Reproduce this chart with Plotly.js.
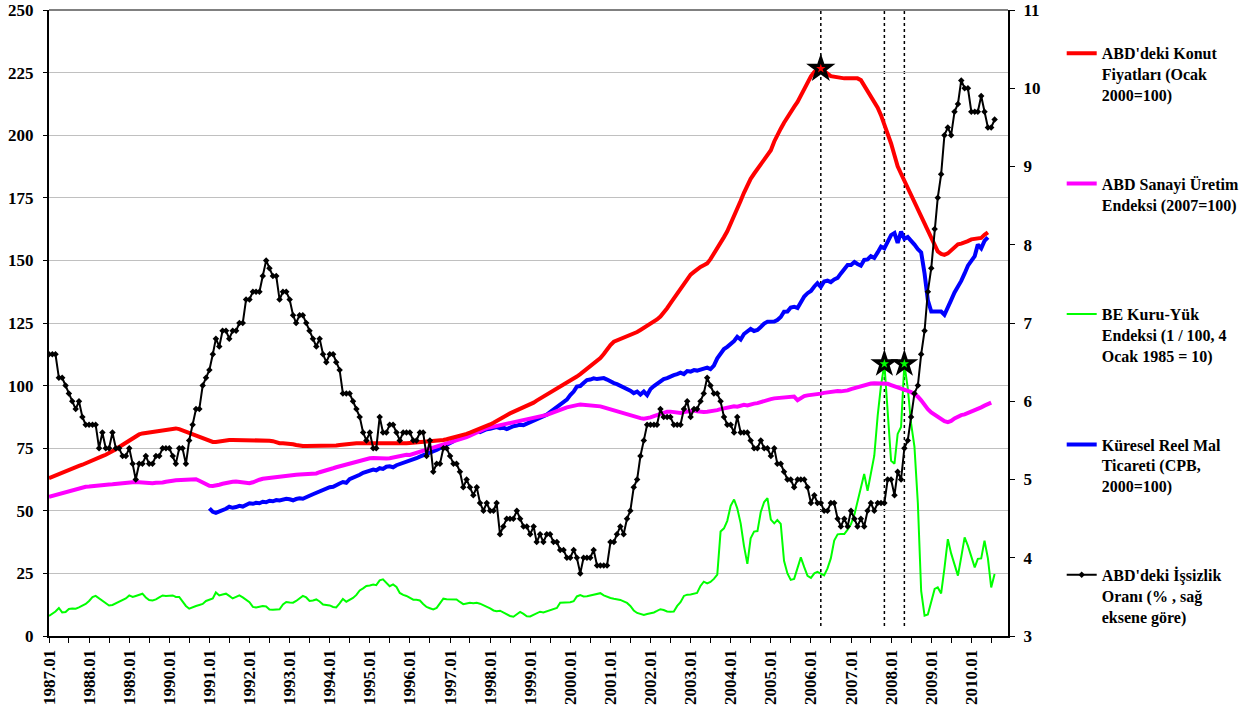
<!DOCTYPE html>
<html><head><meta charset="utf-8">
<script src="https://cdn.plot.ly/plotly-3.0.1.min.js"></script>
<style>html,body{margin:0;padding:0;background:#fff}#chart{width:1255px;height:711px}</style>
</head><body><div id="chart"></div>
<script>
// ---- categories ----
const firstMonth = '1987-01';        // first category of the monthly axis
const tradeFirstMonth = '1991-01';   // world trade series starts here
const axisEndMonth = '2010-12';

// ---- series values (monthly) ----
const housePrices = [ // ABD'deki Konut Fiyatları (Ocak 2000=100), from 1987.01
63.0,63.6,64.1,64.6,65.1,65.6,66.2,66.8,67.4,67.9,68.4,68.9,
69.4,70.0,70.6,71.2,71.8,72.4,73.0,73.8,74.6,75.5,76.4,77.3,
78.2,79.0,79.8,80.5,80.9,81.1,81.2,81.4,81.7,82.0,82.2,82.4,
82.5,82.8,82.9,82.6,82.1,81.6,81.0,80.5,80.0,79.5,79.0,78.5,
77.8,77.5,77.5,77.8,78.0,78.2,78.3,78.3,78.3,78.3,78.2,78.3,
78.3,78.3,78.3,78.3,78.3,78.2,78.0,77.8,77.3,77.0,77.0,77.0,
76.9,76.6,76.3,76.0,75.9,75.9,75.9,75.9,75.9,75.9,75.9,75.9,
75.9,75.9,76.1,76.3,76.5,76.6,76.8,77.0,77.0,77.0,77.0,77.0,
77.0,77.0,77.0,77.0,77.0,76.8,76.7,76.6,76.6,76.7,76.8,77.0,
77.1,77.2,77.3,77.3,77.4,77.5,77.6,77.7,77.8,78.0,78.3,78.6,
78.9,79.2,79.5,79.9,80.3,80.7,81.2,81.7,82.2,82.8,83.4,84.0,
84.5,85.2,86.0,86.8,87.5,88.2,88.9,89.5,90.0,90.6,91.2,91.8,
92.5,93.2,94.0,94.8,95.5,96.2,96.9,97.7,98.5,99.3,100.1,100.9,
101.7,102.6,103.6,104.6,105.6,106.6,107.5,108.5,109.7,111.0,112.6,114.5,
116.2,117.5,118.0,118.5,119.0,119.6,120.1,120.6,121.4,122.2,123.0,123.8,
124.6,125.5,126.4,127.6,129.1,130.9,132.8,134.8,136.8,138.8,140.8,142.9,
144.3,145.4,146.5,147.4,148.1,148.8,150.5,152.6,154.8,157.0,159.3,161.6,
164.5,167.6,170.7,173.8,177.0,180.2,182.6,184.6,186.6,188.4,190.2,191.9,
194.0,197.5,200.3,202.6,205.0,207.3,209.4,211.3,213.3,215.8,218.5,221.0,
223.5,225.3,226.2,226.6,225.8,224.6,223.6,223.3,222.9,222.7,222.7,222.7,
222.7,222.7,222.7,222.0,219.9,217.6,215.6,213.8,211.0,208.0,204.5,200.6,
196.7,192.0,187.6,184.6,181.8,179.1,176.1,173.5,170.7,167.5,164.6,161.8,
158.7,155.8,153.6,152.6,152.2,152.8,154.0,155.6,156.4,156.7,157.0,157.7,
158.4,158.6,158.7,159.0,160.2,161.2];

const industrialProd = [ // ABD Sanayi Üretim Endeksi (2007=100), from 1987.01
55.6,56.0,56.4,56.8,57.0,57.3,57.8,58.2,58.6,59.0,59.3,59.6,
59.7,59.9,60.0,60.2,60.3,60.4,60.5,60.6,60.8,61.0,61.1,61.2,
61.3,61.4,61.5,61.4,61.2,61.0,60.9,61.0,61.2,61.2,61.3,61.6,
62.0,62.0,62.2,62.3,62.4,62.5,62.6,62.7,62.6,62.0,61.2,60.5,
60.0,59.9,60.0,60.4,60.8,61.2,61.5,61.6,61.7,61.5,61.2,61.0,
61.0,61.4,62.0,62.4,62.8,63.0,63.1,63.2,63.3,63.6,63.8,64.1,
64.3,64.4,64.4,64.5,64.5,64.5,64.6,64.7,64.9,65.4,65.9,66.4,
66.8,67.0,67.4,67.8,68.1,68.4,68.8,69.0,69.4,69.9,70.4,70.8,
71.0,71.1,71.0,70.9,70.8,70.9,71.0,71.3,71.6,71.9,72.2,72.4,
72.3,72.8,73.1,73.6,74.0,74.4,74.8,75.2,75.6,76.0,76.4,76.8,
77.2,77.5,77.9,78.3,78.8,79.4,80.0,80.7,81.3,81.9,82.5,83.0,
83.3,83.6,83.9,84.2,84.5,84.7,84.9,85.2,85.6,86.0,86.3,86.5,
86.7,86.9,87.2,87.6,87.9,88.3,88.8,89.2,89.6,90.2,90.8,91.3,
91.7,92.0,92.2,92.4,92.3,92.3,92.3,92.1,92.0,91.7,91.3,90.9,
90.4,90.0,89.6,89.3,88.9,88.5,88.1,87.7,87.4,87.0,86.8,86.9,
87.3,87.8,88.3,88.8,89.2,89.6,89.6,89.4,89.3,89.1,89.4,89.6,
89.8,90.0,89.7,89.4,89.5,89.6,89.7,89.9,90.2,90.6,90.9,91.3,
91.5,91.7,91.6,91.9,92.3,92.1,92.6,92.8,93.0,93.5,93.8,94.2,
94.6,94.9,95.0,95.1,95.3,95.4,95.5,95.6,94.2,95.2,95.8,96.1,
96.2,96.3,96.6,96.8,97.1,97.3,97.6,97.8,97.8,97.7,97.7,98.1,
98.6,99.0,99.2,99.6,100.2,100.6,100.8,100.9,100.9,100.8,101.0,100.7,
100.2,99.8,99.4,99.0,98.5,97.9,97.4,96.7,95.6,94.1,92.2,90.6,
89.3,88.3,87.3,86.5,85.8,85.4,85.9,86.9,87.8,88.2,88.5,89.0,
89.6,90.1,90.6,91.3,92.0,92.5,93.2];

const dryBulk = [ // BE Kuru-Yük Endeksi (1/100), from 1987.01
8.0,8.8,9.8,11.2,9.4,9.6,10.8,11.0,10.9,11.4,12.0,12.8,
14.0,15.5,16.0,15.0,14.2,13.4,12.2,12.4,13.0,13.5,14.3,15.0,
16.2,15.6,16.0,16.6,16.9,15.4,14.4,14.2,14.6,15.4,16.2,16.0,
16.0,16.2,15.6,15.6,13.8,12.0,10.9,11.6,12.0,12.4,12.8,14.0,
14.4,15.0,17.4,16.2,16.6,16.9,16.0,15.0,15.6,16.2,15.4,14.6,
13.5,11.6,11.4,11.7,12.0,11.8,10.6,10.5,10.5,10.7,12.6,13.6,
13.4,13.3,14.0,15.0,16.0,15.4,14.0,14.2,14.6,13.8,12.6,12.4,
12.2,11.6,11.4,13.0,14.8,13.7,14.4,15.2,16.4,18.2,19.0,20.0,
20.2,20.6,20.3,22.2,22.6,21.0,19.9,20.6,19.6,17.2,16.4,16.0,
15.2,14.5,14.5,14.2,12.8,11.6,11.1,10.6,11.2,13.0,14.9,14.7,
14.6,14.8,14.6,13.6,12.7,13.0,13.3,13.1,13.3,12.9,12.3,11.8,
11.0,10.2,9.9,10.1,9.4,8.8,8.0,7.7,8.6,9.6,8.8,7.9,
7.8,8.4,9.2,9.7,9.4,9.8,10.1,10.5,11.2,13.3,13.4,13.5,
13.5,13.9,15.8,16.3,15.8,15.9,16.2,16.5,16.8,17.1,16.2,15.6,
15.2,14.9,14.7,14.4,13.8,13.2,12.0,10.2,9.2,8.7,8.4,8.8,
9.0,9.4,10.0,10.7,10.4,9.8,9.7,9.8,12.0,13.5,16.0,16.5,
16.6,17.0,17.2,20.0,21.7,21.0,21.6,22.8,24.5,41.7,43.0,46.0,
52.0,54.5,51.0,45.0,36.0,28.8,39.0,41.7,41.9,49.5,53.5,55.0,
46.5,45.0,46.3,44.8,30.0,25.0,22.4,22.8,27.0,31.4,27.5,24.0,
23.2,25.0,25.6,24.8,24.2,27.0,31.0,38.1,40.6,40.7,40.7,42.5,
44.7,48.5,53.4,59.0,64.7,58.0,65.0,72.0,88.0,100.0,108.7,91.5,
70.0,68.8,80.7,83.5,108.7,99.0,85.0,75.5,53.0,18.0,8.1,8.6,
14.0,18.8,19.4,17.0,27.0,38.7,33.0,28.0,24.1,31.5,39.4,36.0,
31.5,27.4,30.8,31.0,38.1,31.0,19.4,24.8];

const worldTrade = [ // Küresel Reel Mal Ticareti (CPB, 2000=100), from 1991.01
51.0,49.6,49.2,49.7,50.3,50.8,51.6,51.2,51.5,52.0,51.7,52.4,
53.0,52.8,53.2,53.0,53.6,53.4,54.0,53.8,54.3,54.1,54.4,54.8,
54.6,54.2,54.7,55.0,54.8,55.2,56.0,56.6,57.2,57.6,58.2,58.8,
59.4,59.6,60.4,60.9,61.5,61.2,62.6,63.1,63.6,64.4,65.2,65.6,
65.8,66.5,66.2,67.0,66.7,67.6,67.8,67.4,68.2,68.6,69.0,69.6,
70.2,70.6,71.0,71.6,72.1,72.4,73.2,73.8,74.3,75.0,75.6,76.4,
77.0,77.8,78.6,79.2,79.8,80.3,80.8,81.3,81.8,81.4,82.2,82.6,
82.8,83.2,83.4,83.0,83.2,82.6,83.4,83.8,84.0,84.4,84.2,84.8,
85.4,86.0,86.4,87.0,87.6,88.4,89.4,90.4,91.4,92.4,93.4,94.4,
96.2,97.6,99.6,99.8,101.0,102.2,102.4,102.9,102.6,102.8,103.0,102.4,
101.6,101.0,100.6,100.0,99.4,98.6,98.0,97.0,97.6,96.4,97.6,96.2,
98.6,99.8,100.6,101.4,102.6,103.0,103.8,104.2,104.6,105.2,104.6,105.8,
105.6,106.2,106.0,106.4,106.6,107.2,106.6,108.0,110.9,113.0,114.6,115.5,
116.6,117.8,119.5,118.4,120.6,121.5,122.6,121.8,122.2,123.4,124.8,125.5,
125.7,125.6,126.2,127.4,129.5,129.6,131.2,131.5,131.0,133.4,135.6,136.9,
137.8,139.6,140.9,139.4,141.6,141.9,141.3,142.4,143.0,144.8,146.6,148.2,
148.2,149.4,148.6,147.9,150.2,150.4,151.7,151.0,153.2,155.5,154.8,157.5,
160.1,160.9,157.0,161.5,158.6,159.3,158.0,156.3,154.5,153.2,144.8,134.1,
129.6,129.5,129.6,129.6,128.3,131.0,134.1,137.2,139.5,141.8,144.8,147.9,
149.8,151.7,156.3,154.8,157.8,159.2];

const unemployment = [ // ABD'deki İşsizlik Oranı (%), from 1987.01, right axis
6.6,6.6,6.6,6.3,6.3,6.2,6.1,6.0,5.9,6.0,5.8,5.7,
5.7,5.7,5.7,5.4,5.6,5.4,5.4,5.6,5.4,5.4,5.3,5.3,
5.4,5.2,5.0,5.2,5.2,5.3,5.2,5.2,5.3,5.3,5.4,5.4,
5.4,5.3,5.2,5.4,5.4,5.2,5.5,5.7,5.9,5.9,6.2,6.3,
6.4,6.6,6.8,6.7,6.9,6.9,6.8,6.9,6.9,7.0,7.0,7.3,
7.3,7.4,7.4,7.4,7.6,7.8,7.7,7.6,7.6,7.3,7.4,7.4,
7.3,7.1,7.0,7.1,7.1,7.0,6.9,6.8,6.7,6.8,6.6,6.5,
6.6,6.6,6.5,6.4,6.1,6.1,6.1,6.0,5.9,5.8,5.6,5.5,
5.6,5.4,5.4,5.8,5.6,5.6,5.7,5.7,5.6,5.5,5.6,5.6,
5.6,5.5,5.5,5.6,5.6,5.3,5.5,5.1,5.2,5.2,5.4,5.4,
5.3,5.2,5.2,5.1,4.9,5.0,4.9,4.8,4.9,4.7,4.6,4.7,
4.6,4.6,4.7,4.3,4.4,4.5,4.5,4.5,4.6,4.5,4.4,4.4,
4.3,4.4,4.2,4.3,4.2,4.3,4.3,4.2,4.2,4.1,4.1,4.0,
4.0,4.1,4.0,3.8,4.0,4.0,4.0,4.1,3.9,3.9,3.9,3.9,
4.2,4.2,4.3,4.4,4.3,4.5,4.6,4.9,5.0,5.3,5.5,5.7,
5.7,5.7,5.7,5.9,5.8,5.8,5.8,5.7,5.7,5.7,5.9,6.0,
5.8,5.9,5.9,6.0,6.1,6.3,6.2,6.1,6.1,6.0,5.8,5.7,
5.7,5.6,5.8,5.6,5.6,5.6,5.5,5.4,5.4,5.5,5.4,5.4,
5.3,5.4,5.2,5.2,5.1,5.0,5.0,4.9,5.0,5.0,5.0,4.9,
4.7,4.8,4.7,4.7,4.6,4.6,4.7,4.7,4.5,4.4,4.5,4.4,
4.6,4.5,4.4,4.5,4.4,4.6,4.7,4.6,4.7,4.7,4.7,5.0,
5.0,4.8,5.1,5.0,5.4,5.5,5.8,6.1,6.2,6.6,6.9,7.4,
7.7,8.2,8.6,8.9,9.4,9.5,9.4,9.7,9.8,10.1,10.0,10.0,
9.7,9.7,9.7,9.9,9.7,9.5,9.5,9.6];

// months marked with stars and dotted lines
const dryBulkPeakMonths = ['2007-11', '2008-05'];

// ---- legend labels ----
const names = {
  house: "<b>ABD'deki Konut<br>Fiyatları (Ocak<br>2000=100)</b>",
  ip: "<b>ABD Sanayi Üretim<br>Endeksi (2007=100)<br>\u00A0</b>",
  bdi: "<b>BE Kuru-Yük<br>Endeksi (1 / 100, 4<br>Ocak 1985 = 10)</b>",
  trade: "<b>Küresel Reel Mal<br>Ticareti (CPB,<br>2000=100)</b>",
  unemp: "<b>ABD'deki İşsizlik<br>Oranı (% , sağ<br>eksene göre)</b>"
};

// ---- helpers ----
function monthsFrom(start, n) {
  let [y, m] = start.split('-').map(Number);
  const out = [];
  for (let i = 0; i < n; i++) {
    out.push(y + '-' + String(m).padStart(2, '0') + '-01');
    m++; if (m > 12) { m = 1; y++; }
  }
  return out;
}
const xMain = (arr) => monthsFrom(firstMonth, arr.length);
const xHouse = xMain(housePrices), xIP = xMain(industrialProd), xBDI = xMain(dryBulk), xUn = xMain(unemployment);
const xTrade = monthsFrom(tradeFirstMonth, worldTrade.length);

// peak of housing prices
let hi = 0; housePrices.forEach((v, i) => { if (v > housePrices[hi]) hi = i; });
const housePeakX = xHouse[hi], housePeakY = housePrices[hi];
const bdiPeakX = dryBulkPeakMonths.map(m => m + '-01');
const bdiPeakY = bdiPeakX.map(d => dryBulk[xBDI.indexOf(d)]);

const serif = "'Liberation Serif', 'Times New Roman', serif";

const traces = [
  {x: xBDI, y: dryBulk, name: names.bdi, type: 'scatter', mode: 'lines',
   line: {color: '#00FF00', width: 2}, legendgroup: 'g3', legendrank: 3},
  {x: xTrade, y: worldTrade, name: names.trade, type: 'scatter', mode: 'lines',
   line: {color: '#0000FF', width: 4}, legendgroup: 'g4', legendrank: 4},
  {x: xIP, y: industrialProd, name: names.ip, type: 'scatter', mode: 'lines',
   line: {color: '#FF00FF', width: 4}, legendgroup: 'g2', legendrank: 2},
  {x: xHouse, y: housePrices, name: names.house, type: 'scatter', mode: 'lines',
   line: {color: '#FF0000', width: 4}, legendgroup: 'g1', legendrank: 1},
  {x: xUn, y: unemployment, name: names.unemp, type: 'scatter', mode: 'lines+markers',
   yaxis: 'y2', line: {color: '#000000', width: 2},
   marker: {symbol: 'diamond', size: 5, color: '#000000'}, legendgroup: 'g5', legendrank: 5},
  // stars
  {x: [housePeakX], y: [housePeakY], type: 'scatter', mode: 'markers', showlegend: false,
   marker: {symbol: 'star', size: 22, color: '#000000'}},
  {x: [housePeakX], y: [housePeakY], type: 'scatter', mode: 'markers', showlegend: false,
   marker: {symbol: 'star', size: 7, color: '#FF0000'}},
  {x: bdiPeakX, y: bdiPeakY, type: 'scatter', mode: 'markers', showlegend: false,
   marker: {symbol: 'star', size: 21, color: '#000000'}},
  {x: bdiPeakX, y: bdiPeakY, type: 'scatter', mode: 'markers', showlegend: false,
   marker: {symbol: 'star', size: 7, color: '#00FF00'}}
];

const markMonths = [housePeakX].concat(bdiPeakX);
const shapes = markMonths.map(d => ({
  type: 'line', xref: 'x', yref: 'paper', x0: d, x1: d, y0: 0.016, y1: 1,
  line: {color: '#000000', width: 1.5, dash: 'dot'}, layer: 'below'
}));
shapes.push({type: 'line', xref: 'paper', yref: 'paper', x0: 0, x1: 1, y0: 1, y1: 1,
  line: {color: '#808080', width: 2}});

const tickFont = {family: serif, size: 17, color: '#000000', weight: 700};

const layout = {
  width: 1255, height: 711,
  margin: {l: 49, r: 247, t: 10, b: 75, pad: 0},
  paper_bgcolor: '#ffffff', plot_bgcolor: '#ffffff',
  showlegend: true,
  xaxis: {
    type: 'date', range: [firstMonth + '-01', axisEndMonth + '-01'],
    tick0: firstMonth + '-01', dtick: 'M12', tickformat: '%Y.%m', tickangle: -90,
    ticks: 'outside', ticklen: 5, tickwidth: 1, tickcolor: '#000000',
    minor: {dtick: 'M6', ticks: 'outside', ticklen: 5, tickcolor: '#000000', showgrid: false},
    showgrid: false, showline: true, linecolor: '#000000', linewidth: 2,
    tickfont: tickFont, zeroline: false, fixedrange: true
  },
  yaxis: {
    range: [0, 250], dtick: 25, tick0: 0,
    showgrid: true, gridcolor: '#c0c0c0', gridwidth: 1,
    showline: true, linecolor: '#000000', linewidth: 2,
    ticks: 'outside', ticklen: 4, tickcolor: '#000000', ticklabelstandoff: 6,
    tickfont: {family: serif, size: 17, color: '#000000', weight: 700},
    zeroline: false, fixedrange: true
  },
  yaxis2: {
    overlaying: 'y', side: 'right', range: [3, 11], dtick: 1, tick0: 3,
    showgrid: false, showline: true, linecolor: '#000000', linewidth: 2,
    ticks: 'outside', ticklen: 5, tickcolor: '#000000', ticklabelstandoff: 5,
    tickfont: {family: serif, size: 17, color: '#000000', weight: 700},
    zeroline: false, fixedrange: true
  },
  legend: {
    x: 1.056, xanchor: 'left', y: 0.958, yanchor: 'top',
    valign: 'top', traceorder: 'grouped', tracegroupgap: 65,
    bgcolor: 'rgba(0,0,0,0)', borderwidth: 0,
    font: {family: serif, size: 16, color: '#000000', weight: 700}
  },
  shapes: shapes
};

Plotly.newPlot('chart', traces, layout, {staticPlot: true, displayModeBar: false});
</script>
</body></html>
